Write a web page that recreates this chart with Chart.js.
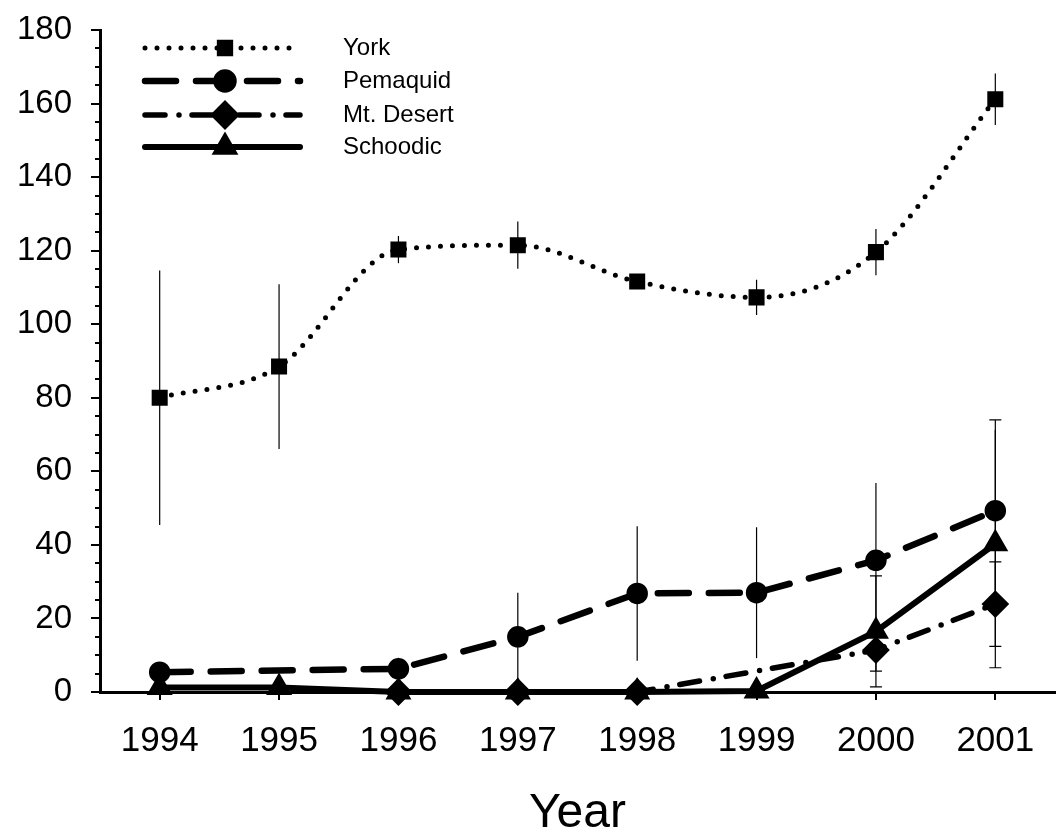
<!DOCTYPE html>
<html>
<head>
<meta charset="utf-8">
<script src="https://cdn.jsdelivr.net/npm/chart.js@4/dist/chart.umd.min.js"></script>
<style>
  html, body { margin: 0; padding: 0; background: #fff; }
  #wrap { width: 1058px; height: 834px; }
</style>
</head>
<body>
<div id="wrap"><canvas id="chart" width="1058" height="834"></canvas></div>
<script>
// data
const years = ['1994', '1995', '1996', '1997', '1998', '1999', '2000', '2001'];
const york        = [80, 88.5, 120.3, 121.5, 111.6, 107.3, 119.6, 161.2];
const yorkErr     = [34.6, 22.4, 3.7, 6.4, 2, 4.8, 6.3, 7];
const pemaquid    = [5.4, null, 6.3, 15, 26.8, 27, 35.8, 49.3];
const pemaquidErr = [null, null, 3, 12, 18.3, 17.8, 21, 22];
const mtDesert    = [null, null, 0, 0, 0, null, 11.4, 23.9];
const mtDesertErr = [null, null, null, null, null, null, 5.7, 11.5];
const schoodic    = [1.2, 1.2, 0, 0, 0, 0.3, 16.5, 40.3];
const schoodicErr = [null, null, null, null, null, null, 15.1, 33.7];
const yTicks = { min: 0, max: 180, step: 20, minorStep: 5 };

const FONT = '"Liberation Sans", Arial, Helvetica, sans-serif';

// error bars, drawn under the lines
const errorBars = {
  id: 'errorBars',
  beforeDatasetsDraw(chart) {
    const { ctx } = chart;
    const x = chart.scales.x, y = chart.scales.y;
    ctx.save();
    ctx.strokeStyle = '#000';
    ctx.lineWidth = 1.2;
    chart.data.datasets.forEach(ds => {
      if (!ds.err) return;
      ds.data.forEach((v, i) => {
        const e = ds.err[i];
        if (v == null || e == null) return;
        const px = x.getPixelForValue(i);
        const top = y.getPixelForValue(v + e);
        const bot = y.getPixelForValue(Math.max(0, v - e));
        ctx.beginPath();
        ctx.moveTo(px, top);
        ctx.lineTo(px, bot);
        if (ds.caps) {
          ctx.moveTo(px - 6, top); ctx.lineTo(px + 6, top);
          if (v - e > 0) { ctx.moveTo(px - 6, bot); ctx.lineTo(px + 6, bot); }
        }
        ctx.stroke();
      });
    });
    ctx.restore();
  }
};

// short minor ticks on the y axis
const minorTicks = {
  id: 'minorTicks',
  afterDraw(chart) {
    const { ctx, chartArea } = chart;
    const y = chart.scales.y;
    ctx.save();
    ctx.strokeStyle = '#000';
    ctx.lineWidth = 2;
    for (let v = yTicks.min + yTicks.minorStep; v < yTicks.max; v += yTicks.minorStep) {
      if (v % yTicks.step === 0) continue;
      const py = Math.round(y.getPixelForValue(v));
      ctx.beginPath();
      ctx.moveTo(chartArea.left - 5, py);
      ctx.lineTo(chartArea.left, py);
      ctx.stroke();
    }
    ctx.restore();
  }
};

// legend in the top-left corner, line sample with marker in the middle
const sampleLegend = {
  id: 'sampleLegend',
  afterDraw(chart) {
    const { ctx } = chart;
    const rows = [48, 81, 115, 147];
    ctx.save();
    chart.data.datasets.forEach((ds, i) => {
      const yy = rows[i];
      ctx.strokeStyle = '#000';
      ctx.lineWidth = ds.borderWidth;
      ctx.lineCap = ds.borderCapStyle || 'butt';
      ctx.setLineDash(ds.borderDash || []);
      ctx.beginPath();
      ctx.moveTo(145, yy);
      ctx.lineTo(300, yy);
      ctx.stroke();
      ctx.setLineDash([]);
      ctx.fillStyle = '#000';
      Chart.helpers.drawPoint(ctx, {
        pointStyle: ds.pointStyle, radius: ds.legendRadius, rotation: 0, borderWidth: 1
      }, 225, yy);
      ctx.fill();
      ctx.fillStyle = '#000';
      ctx.font = '24px ' + FONT;
      ctx.textBaseline = 'middle';
      ctx.textAlign = 'left';
      ctx.fillText(ds.label, 343, yy);
    });
    ctx.restore();
  }
};

const ctx = document.getElementById('chart').getContext('2d');
new Chart(ctx, {
  type: 'line',
  data: {
    labels: years,
    datasets: [
      {
        label: 'York', data: york, err: yorkErr, caps: false,
        borderColor: '#000', borderWidth: 5, borderDash: [0, 12], borderCapStyle: 'round',
        cubicInterpolationMode: 'monotone', pointStyle: 'rect', pointRadius: 7.8, legendRadius: 8,
        pointBackgroundColor: '#000', pointBorderColor: '#000', clip: false
      },
      {
        label: 'Pemaquid', data: pemaquid, err: pemaquidErr, caps: false,
        borderColor: '#000', borderWidth: 6.5, borderDash: [31, 20], borderCapStyle: 'round',
        spanGaps: true, pointStyle: 'circle', pointRadius: 7.5, legendRadius: 8.5,
        pointBackgroundColor: '#000', pointBorderColor: '#000', clip: false
      },
      {
        label: 'Mt. Desert', data: mtDesert, err: mtDesertErr, caps: true,
        borderColor: '#000', borderWidth: 5.5, borderDash: [20, 14, 0, 13], borderCapStyle: 'round',
        spanGaps: true, pointStyle: 'rectRot', pointRadius: 10, legendRadius: 11,
        pointBackgroundColor: '#000', pointBorderColor: '#000', clip: false
      },
      {
        label: 'Schoodic', data: schoodic, err: schoodicErr, caps: true,
        borderColor: '#000', borderWidth: 6, borderCapStyle: 'round',
        pointStyle: 'triangle', pointRadius: 9, legendRadius: 9.5,
        pointBackgroundColor: '#000', pointBorderColor: '#000', clip: false
      }
    ]
  },
  options: {
    responsive: false,
    animation: false,
    layout: { autoPadding: false, padding: { top: 30, right: 3, left: 0, bottom: 0 } },
    plugins: { legend: { display: false }, tooltip: { enabled: false } },
    scales: {
      x: {
        offset: true,
        afterFit: s => { s.height = 142; s.paddingLeft = 0; s.paddingRight = 0; },
        grid: { offset: false, drawOnChartArea: false, drawTicks: true, tickLength: 8, color: '#000', lineWidth: 2 },
        border: { display: true, color: '#000', width: 3 },
        ticks: { color: '#000', padding: 20, font: { family: FONT, size: 35 } },
        title: {
          display: true, text: 'Year', color: '#000',
          font: { family: FONT, size: 48, lineHeight: 0.85 }, padding: { top: 0, bottom: 0 }
        }
      },
      y: {
        min: yTicks.min, max: yTicks.max,
        afterFit: s => { s.width = 100; s.paddingTop = 0; s.paddingBottom = 0; },
        grid: { drawOnChartArea: false, drawTicks: true, tickLength: 9, color: '#000', lineWidth: 2 },
        border: { display: true, color: '#000', width: 3 },
        ticks: { stepSize: yTicks.step, color: '#000', padding: 19, font: { family: FONT, size: 33 } }
      }
    }
  },
  plugins: [errorBars, minorTicks, sampleLegend]
});
</script>
</body>
</html>
